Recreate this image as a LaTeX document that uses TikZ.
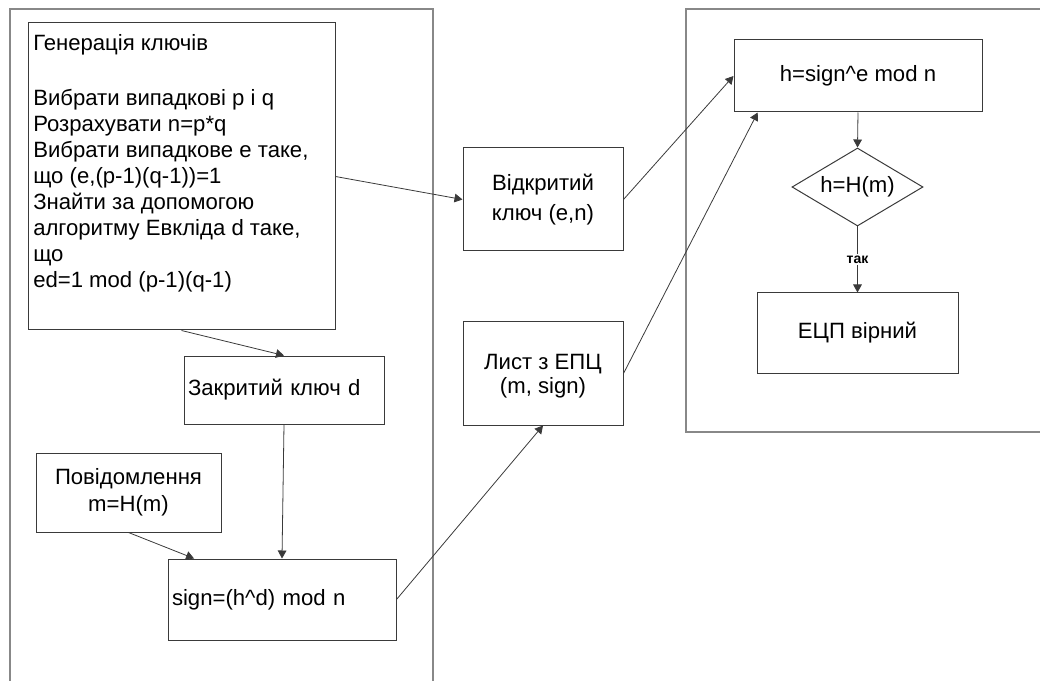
\documentclass[tikz,border=0pt]{standalone}
\usepackage{fontspec}
\setmainfont{Liberation Sans}
\usetikzlibrary{arrows.meta,shapes.geometric}
\definecolor{edge}{HTML}{3A3A3A}
\definecolor{frame}{HTML}{888888}

\begin{document}
\begin{tikzpicture}[x=0.75pt,y=-0.75pt,
  base/.style={font=\fontsize{16.6}{19.5}\selectfont},
  box/.style={base, draw=edge, line width=0.75pt, inner sep=0pt, align=center},
  lbox/.style={base, draw=edge, line width=0.75pt, inner ysep=0pt, inner xsep=3pt, align=left},
  sz/.style 2 args={minimum width=#1*0.75pt, minimum height=#2*0.75pt},
  arr/.style={draw=edge, line width=0.6pt, -{Triangle[length=6pt,width=6.5pt]}},
  yes/.style={fill=white, inner sep=1pt, font=\fontsize{10.5}{12}\selectfont\bfseries},
  framebox/.style={draw=frame, line width=0.9pt}
]
\useasboundingbox (0,0) rectangle (1040,681);

% the two group frames
\draw[framebox] (10,9) rectangle (433,700);
\draw[framebox] (686,9) rectangle (1060,432);

% key generation side
\node[box, sz={307}{307}] (kg) at (181.5,176.5) {};
\node[base, anchor=north west, inner sep=0pt, align=left] (kgtext) at (33,34)
  {Генерація ключів\\[21.75pt]
   Вибрати випадкові p і q\\
   Розрахувати n=p*q\\
   Вибрати випадкове e таке,\\
   що (e,(p-1)(q-1))=1\\
   Знайти за допомогою\\
   алгоритму Евкліда d таке,\\
   що\\
   ed=1 mod (p-1)(q-1)};
\node[lbox, text width=144pt, minimum height=51pt] (close) at (284,390) {Закритий ключ d};
\node[box, sz={185}{79}] (msg) at (128.5,492.5) {Повідомлення\\[0.75pt] m=H(m)};
\node[lbox, text width=165pt, minimum height=60.75pt] (sign) at (282,599.5) {sign=(h\textasciicircum d) mod n};

% transferred data
\node[box, sz={160}{103}] (pub) at (543,199.5) {Відкритий\\[3pt] ключ (e,n)};
\node[box, sz={160}{103}, text depth=0pt] (doc) at (543,373.5) {Лист з ЕПЦ\\[-1.5pt] (m, sign)};

% verification side
\node[box, sz={248}{72}] (hv) at (858,76) {h=sign\textasciicircum e mod n};
\node[base, diamond, draw=edge, line width=0.75pt, inner sep=0pt, aspect=1.68,
      minimum width=98.25pt, minimum height=58.5pt] (dm) at (857.5,187) {h=H(m)};
\node[box, sz={201}{80}] (ok) at (857.5,333) {ЕЦП вірний};

% connectors
\draw[arr] (kg.east) -- (pub.west);
\draw[arr] (kg.south) -- (close.north);
\draw[arr] (close.south) -- (sign.north);
\draw[arr] (msg.south) -- (sign.155.5);
\draw[arr] (sign.east) -- (doc.south);
\draw[arr] (pub.east) -- (hv.west);
\draw[arr] (doc.east) -- (hv.200);
\draw[arr] (hv.south) -- (dm.north);
\draw[arr] (dm.south) -- node[yes] (yeslbl) {так} (ok.north);
\end{tikzpicture}
\end{document}
